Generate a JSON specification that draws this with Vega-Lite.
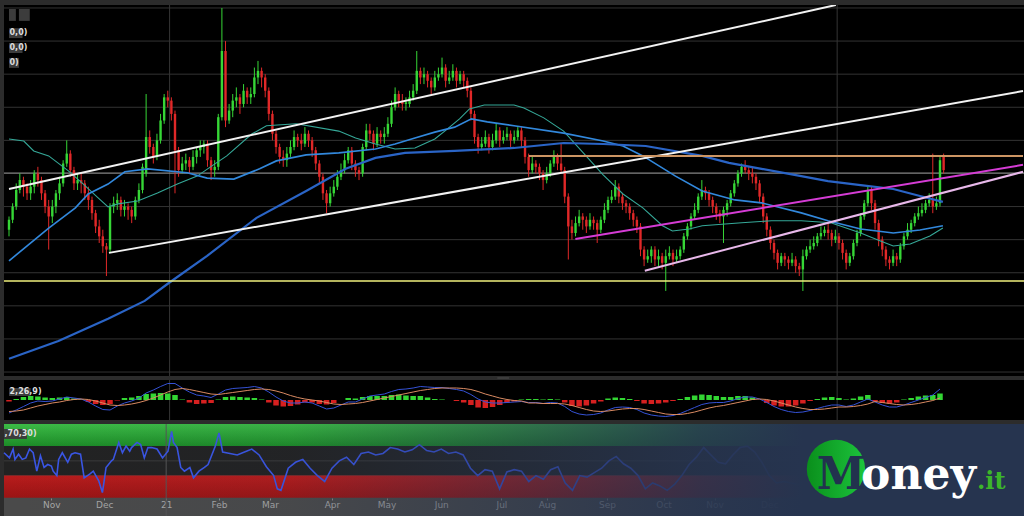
{
"$schema":"https://vega.github.io/schema/vega-lite/v6.json",
"background":"#2c2c2c",
"padding":{"top":4,"left":0,"right":0,"bottom":0},
"spacing":4,
"bounds":"flush",
"config":{"view":{"stroke":null},"axis":{"domain":false}},
"datasets":{
"candles":[
{"d":0,"o":53,"h":57,"l":51,"c":56},{"d":2,"o":56,"h":61,"l":55,"c":60},{"d":4,"o":60,"h":67,"l":59,"c":65},{"d":6,"o":65,"h":70,"l":64,"c":68},{"d":8,"o":68,"h":69,"l":63,"c":66},{"d":10,"o":66,"h":67,"l":62,"c":64},{"d":12,"o":64,"h":68,"l":62,"c":66},{"d":14,"o":66,"h":71,"l":64,"c":70},{"d":16,"o":70,"h":72,"l":66,"c":68},{"d":18,"o":68,"h":69,"l":62,"c":64},
{"d":20,"o":64,"h":65,"l":58,"c":60},{"d":22,"o":60,"h":62,"l":47,"c":57},{"d":24,"o":57,"h":62,"l":55,"c":60},{"d":26,"o":60,"h":65,"l":58,"c":64},{"d":28,"o":64,"h":69,"l":62,"c":67},{"d":30,"o":67,"h":74,"l":66,"c":73},{"d":32,"o":73,"h":80,"l":72,"c":76},{"d":34,"o":76,"h":77,"l":69,"c":71},{"d":36,"o":71,"h":72,"l":65,"c":67},{"d":38,"o":67,"h":70,"l":65,"c":68},
{"d":40,"o":68,"h":70,"l":64,"c":67},{"d":42,"o":67,"h":68,"l":62,"c":64},{"d":44,"o":64,"h":66,"l":59,"c":62},{"d":46,"o":62,"h":63,"l":56,"c":58},{"d":48,"o":58,"h":59,"l":52,"c":54},{"d":50,"o":54,"h":56,"l":49,"c":51},{"d":52,"o":51,"h":53,"l":46,"c":48},{"d":54,"o":48,"h":49,"l":39,"c":47},{"d":56,"o":47,"h":61,"l":46,"c":60},{"d":58,"o":60,"h":63,"l":58,"c":61},
{"d":60,"o":61,"h":64,"l":59,"c":62},{"d":62,"o":62,"h":63,"l":57,"c":59},{"d":64,"o":59,"h":62,"l":57,"c":60},{"d":66,"o":60,"h":61,"l":56,"c":59},{"d":68,"o":59,"h":60,"l":55,"c":57},{"d":70,"o":57,"h":63,"l":56,"c":62},{"d":72,"o":62,"h":67,"l":61,"c":65},{"d":74,"o":65,"h":73,"l":64,"c":72},{"d":76,"o":70,"h":94,"l":69,"c":81},{"d":78,"o":81,"h":83,"l":76,"c":78},
{"d":80,"o":78,"h":79,"l":73,"c":75},{"d":82,"o":75,"h":82,"l":74,"c":80},{"d":84,"o":80,"h":88,"l":79,"c":86},{"d":86,"o":86,"h":94,"l":85,"c":93},{"d":88,"o":93,"h":95,"l":90,"c":92},{"d":90,"o":92,"h":93,"l":86,"c":88},{"d":92,"o":88,"h":89,"l":64,"c":77},{"d":94,"o":77,"h":78,"l":69,"c":71},{"d":96,"o":71,"h":75,"l":70,"c":73},{"d":98,"o":73,"h":76,"l":71,"c":74},
{"d":100,"o":74,"h":75,"l":70,"c":72},{"d":102,"o":72,"h":77,"l":71,"c":75},{"d":104,"o":75,"h":78,"l":73,"c":77},{"d":106,"o":77,"h":80,"l":75,"c":78},{"d":108,"o":78,"h":80,"l":76,"c":79},{"d":110,"o":79,"h":80,"l":72,"c":74},{"d":112,"o":74,"h":75,"l":68,"c":71},{"d":114,"o":71,"h":74,"l":69,"c":72},{"d":116,"o":72,"h":88,"l":71,"c":87},{"d":118,"o":87,"h":120,"l":86,"c":107},
{"d":120,"o":107,"h":110,"l":84,"c":86},{"d":122,"o":86,"h":91,"l":85,"c":89},{"d":124,"o":89,"h":94,"l":87,"c":92},{"d":126,"o":92,"h":96,"l":90,"c":93},{"d":128,"o":93,"h":94,"l":88,"c":91},{"d":130,"o":91,"h":97,"l":90,"c":95},{"d":132,"o":95,"h":96,"l":91,"c":93},{"d":134,"o":93,"h":96,"l":91,"c":94},{"d":136,"o":94,"h":102,"l":93,"c":99},{"d":138,"o":99,"h":104,"l":97,"c":101},
{"d":140,"o":101,"h":102,"l":96,"c":99},{"d":142,"o":99,"h":100,"l":93,"c":95},{"d":144,"o":95,"h":96,"l":86,"c":88},{"d":146,"o":88,"h":89,"l":80,"c":82},{"d":148,"o":82,"h":83,"l":76,"c":78},{"d":150,"o":78,"h":79,"l":73,"c":75},{"d":152,"o":75,"h":77,"l":72,"c":74},{"d":154,"o":74,"h":78,"l":72,"c":76},{"d":156,"o":76,"h":80,"l":75,"c":78},{"d":158,"o":78,"h":83,"l":77,"c":81},
{"d":160,"o":81,"h":82,"l":78,"c":80},{"d":162,"o":80,"h":82,"l":77,"c":79},{"d":164,"o":79,"h":84,"l":78,"c":82},{"d":166,"o":82,"h":83,"l":78,"c":80},{"d":168,"o":80,"h":81,"l":75,"c":77},{"d":170,"o":77,"h":78,"l":71,"c":73},{"d":172,"o":73,"h":74,"l":67,"c":69},{"d":174,"o":69,"h":70,"l":62,"c":64},{"d":176,"o":64,"h":65,"l":58,"c":61},{"d":178,"o":61,"h":66,"l":60,"c":64},
{"d":180,"o":64,"h":68,"l":63,"c":66},{"d":182,"o":66,"h":71,"l":65,"c":69},{"d":184,"o":69,"h":73,"l":68,"c":71},{"d":186,"o":71,"h":76,"l":70,"c":74},{"d":188,"o":74,"h":78,"l":73,"c":77},{"d":190,"o":77,"h":78,"l":71,"c":73},{"d":192,"o":73,"h":74,"l":69,"c":71},{"d":194,"o":71,"h":72,"l":68,"c":70},{"d":196,"o":70,"h":79,"l":69,"c":78},{"d":198,"o":78,"h":85,"l":77,"c":83},
{"d":200,"o":83,"h":85,"l":80,"c":82},{"d":202,"o":82,"h":83,"l":77,"c":79},{"d":204,"o":79,"h":84,"l":78,"c":82},{"d":206,"o":82,"h":83,"l":79,"c":81},{"d":208,"o":81,"h":84,"l":79,"c":82},{"d":210,"o":82,"h":87,"l":81,"c":85},{"d":212,"o":85,"h":92,"l":84,"c":90},{"d":214,"o":90,"h":96,"l":89,"c":94},{"d":216,"o":94,"h":95,"l":90,"c":92},{"d":218,"o":92,"h":94,"l":89,"c":91},
{"d":220,"o":91,"h":93,"l":89,"c":91.5},{"d":222,"o":91,"h":95,"l":90,"c":93},{"d":224,"o":93,"h":97,"l":92,"c":95},{"d":226,"o":95,"h":107,"l":94,"c":101},{"d":228,"o":101,"h":102,"l":97,"c":99},{"d":230,"o":99,"h":102,"l":97,"c":100},{"d":232,"o":100,"h":101,"l":96,"c":98},{"d":234,"o":98,"h":99,"l":94,"c":96},{"d":236,"o":96,"h":101,"l":95,"c":99},{"d":238,"o":99,"h":102,"l":98,"c":100},
{"d":240,"o":100,"h":105,"l":99,"c":102},{"d":242,"o":102,"h":103,"l":96,"c":98},{"d":244,"o":98,"h":101,"l":97,"c":99},{"d":246,"o":99,"h":103,"l":98,"c":101},{"d":248,"o":101,"h":102,"l":96,"c":98},{"d":250,"o":98,"h":101,"l":97,"c":100},{"d":252,"o":100,"h":101,"l":96,"c":98},{"d":254,"o":98,"h":99,"l":93,"c":95},{"d":256,"o":95,"h":96,"l":86,"c":88},{"d":258,"o":88,"h":89,"l":79,"c":81},
{"d":260,"o":81,"h":82,"l":76,"c":78},{"d":262,"o":78,"h":81,"l":77,"c":79},{"d":264,"o":79,"h":83,"l":78,"c":81},{"d":266,"o":81,"h":82,"l":76,"c":78},{"d":268,"o":78,"h":82,"l":77,"c":80},{"d":270,"o":80,"h":85,"l":79,"c":83},{"d":272,"o":83,"h":84,"l":78,"c":80},{"d":274,"o":80,"h":83,"l":79,"c":81},{"d":276,"o":81,"h":84,"l":80,"c":82},{"d":278,"o":82,"h":83,"l":78,"c":80},
{"d":280,"o":80,"h":83,"l":79,"c":81},{"d":282,"o":81,"h":84,"l":80,"c":83},{"d":284,"o":83,"h":84,"l":78,"c":80},{"d":286,"o":80,"h":81,"l":73,"c":75},{"d":288,"o":75,"h":76,"l":69,"c":71},{"d":290,"o":71,"h":75,"l":70,"c":73},{"d":292,"o":73,"h":74,"l":70,"c":72},{"d":294,"o":72,"h":73,"l":68,"c":70},{"d":296,"o":70,"h":71,"l":65,"c":68},{"d":298,"o":68,"h":72,"l":67,"c":70},
{"d":300,"o":70,"h":74,"l":69,"c":73},{"d":302,"o":73,"h":77,"l":72,"c":75},{"d":304,"o":75,"h":76,"l":71,"c":73},{"d":306,"o":73,"h":79,"l":70,"c":71},{"d":308,"o":71,"h":72,"l":61,"c":63},{"d":310,"o":63,"h":64,"l":44,"c":54},{"d":312,"o":54,"h":56,"l":50,"c":52},{"d":314,"o":52,"h":57,"l":51,"c":55},{"d":316,"o":55,"h":59,"l":54,"c":57},{"d":318,"o":57,"h":58,"l":53,"c":56},
{"d":320,"o":56,"h":57,"l":52,"c":54},{"d":322,"o":54,"h":58,"l":53,"c":56},{"d":324,"o":56,"h":57,"l":53,"c":55},{"d":326,"o":55,"h":56,"l":49,"c":53},{"d":328,"o":53,"h":57,"l":52,"c":56},{"d":330,"o":56,"h":61,"l":55,"c":59},{"d":332,"o":59,"h":63,"l":58,"c":62},{"d":334,"o":62,"h":65,"l":61,"c":63},{"d":336,"o":63,"h":68,"l":62,"c":66},{"d":338,"o":66,"h":67,"l":61,"c":63},
{"d":340,"o":63,"h":64,"l":59,"c":61},{"d":342,"o":61,"h":62,"l":58,"c":60},{"d":344,"o":60,"h":61,"l":56,"c":58},{"d":346,"o":58,"h":59,"l":54,"c":56},{"d":348,"o":56,"h":57,"l":52,"c":54},{"d":350,"o":54,"h":55,"l":45,"c":47},{"d":352,"o":47,"h":48,"l":42,"c":44},{"d":354,"o":44,"h":47,"l":43,"c":45},{"d":356,"o":45,"h":48,"l":43,"c":47},{"d":358,"o":47,"h":48,"l":42,"c":44},
{"d":360,"o":44,"h":47,"l":42,"c":45},{"d":362,"o":45,"h":46,"l":41,"c":43},{"d":364,"o":43,"h":47,"l":34.5,"c":45},{"d":366,"o":45,"h":48,"l":44,"c":46},{"d":368,"o":46,"h":47,"l":42,"c":44},{"d":370,"o":44,"h":47,"l":43,"c":45},{"d":372,"o":45,"h":48,"l":44,"c":47},{"d":374,"o":47,"h":52,"l":46,"c":51},{"d":376,"o":51,"h":55,"l":50,"c":54},{"d":378,"o":54,"h":58,"l":53,"c":57},
{"d":380,"o":57,"h":61,"l":56,"c":59},{"d":382,"o":59,"h":64,"l":58,"c":63},{"d":384,"o":63,"h":68,"l":62,"c":65},{"d":386,"o":65,"h":66,"l":62,"c":64},{"d":388,"o":64,"h":65,"l":60,"c":62},{"d":390,"o":62,"h":63,"l":58,"c":60},{"d":392,"o":60,"h":61,"l":56,"c":58},{"d":394,"o":58,"h":59,"l":55,"c":57},{"d":396,"o":57,"h":60,"l":49,"c":59},{"d":398,"o":59,"h":62,"l":57,"c":61},
{"d":400,"o":61,"h":65,"l":60,"c":64},{"d":402,"o":64,"h":68,"l":63,"c":67},{"d":404,"o":67,"h":71,"l":66,"c":70},{"d":406,"o":70,"h":73,"l":69,"c":72},{"d":408,"o":72,"h":74,"l":70,"c":71},{"d":410,"o":71,"h":72,"l":68,"c":70},{"d":412,"o":70,"h":72,"l":67,"c":69},{"d":414,"o":69,"h":70,"l":65,"c":67},{"d":416,"o":67,"h":68,"l":61,"c":63},{"d":418,"o":63,"h":64,"l":55,"c":57},
{"d":420,"o":57,"h":58,"l":51,"c":53},{"d":422,"o":53,"h":54,"l":47,"c":49},{"d":424,"o":49,"h":50,"l":44,"c":46},{"d":426,"o":46,"h":47,"l":41,"c":43},{"d":428,"o":43,"h":46,"l":42,"c":45},{"d":430,"o":45,"h":46,"l":42,"c":44},{"d":432,"o":44,"h":45,"l":41,"c":43},{"d":434,"o":43,"h":46,"l":42,"c":44},{"d":436,"o":44,"h":45,"l":40,"c":42},{"d":438,"o":42,"h":43,"l":39,"c":41},
{"d":440,"o":41,"h":47,"l":34.5,"c":45},{"d":442,"o":45,"h":48,"l":44,"c":47},{"d":444,"o":47,"h":50,"l":46,"c":48},{"d":446,"o":48,"h":51,"l":47,"c":49},{"d":448,"o":49,"h":52,"l":48,"c":51},{"d":450,"o":51,"h":54,"l":50,"c":52},{"d":452,"o":52,"h":54,"l":51,"c":53},{"d":454,"o":53,"h":55,"l":50,"c":52},{"d":456,"o":52,"h":53,"l":48,"c":50},{"d":458,"o":50,"h":53,"l":49,"c":51},
{"d":460,"o":51,"h":52,"l":47,"c":49},{"d":462,"o":49,"h":50,"l":44,"c":46},{"d":464,"o":46,"h":47,"l":41,"c":43},{"d":466,"o":43,"h":46,"l":42,"c":45},{"d":468,"o":45,"h":50,"l":44,"c":49},{"d":470,"o":49,"h":53,"l":48,"c":52},{"d":472,"o":52,"h":58,"l":51,"c":57},{"d":474,"o":57,"h":62,"l":56,"c":61},{"d":476,"o":61,"h":66.5,"l":60,"c":65},{"d":478,"o":65,"h":66,"l":59,"c":61},
{"d":480,"o":61,"h":62,"l":53,"c":55},{"d":482,"o":55,"h":56,"l":48,"c":50},{"d":484,"o":50,"h":51,"l":45,"c":47},{"d":486,"o":47,"h":48,"l":42,"c":44},{"d":488,"o":44,"h":45,"l":41,"c":43},{"d":490,"o":43,"h":47,"l":42,"c":45},{"d":492,"o":45,"h":46,"l":42,"c":44},{"d":494,"o":44,"h":49,"l":43,"c":48},{"d":496,"o":48,"h":52,"l":47,"c":51},{"d":498,"o":51,"h":55,"l":50,"c":53},
{"d":500,"o":53,"h":56,"l":52,"c":55},{"d":502,"o":55,"h":58,"l":54,"c":57},{"d":504,"o":57,"h":60,"l":56,"c":58},{"d":506,"o":58,"h":61,"l":57,"c":59},{"d":508,"o":59,"h":62,"l":58,"c":61},{"d":510,"o":61,"h":64,"l":60,"c":62},{"d":512,"o":62,"h":76,"l":58,"c":60},{"d":514,"o":60,"h":63,"l":59,"c":61},{"d":516,"o":61,"h":75,"l":60,"c":74},{"d":518,"o":75,"h":76,"l":70,"c":71}
],
"ma":[
{"m":"T","d":0,"v":80.4},{"m":"T","d":8.2,"v":79.8},{"m":"T","d":13.7,"v":76.8},{"m":"T","d":22,"v":75.3},{"m":"T","d":32.9,"v":70.8},{"m":"T","d":41.2,"v":66.8},{"m":"T","d":49.4,"v":62.6},{"m":"T","d":54.9,"v":59.9},{"m":"T","d":60.4,"v":60.8},{"m":"T","d":71.3,"v":61.7},{"m":"T","d":82.3,"v":64.1},{"m":"T","d":93.3,"v":66.8},{"m":"T","d":104.3,"v":69.2},{"m":"T","d":112.5,"v":72.3},{"m":"T","d":120.7,"v":75.3},{"m":"T","d":134.5,"v":81.9},{"m":"T","d":142.7,"v":84.4},{"m":"T","d":159.2,"v":85},{"m":"T","d":182.8,"v":82.8},{"m":"T","d":192.1,"v":80.7},{"m":"T","d":203.1,"v":78.9},{"m":"T","d":214,"v":77.4},{"m":"T","d":225,"v":77.7},{"m":"T","d":236,"v":80.4},{"m":"T","d":241.5,"v":82.8},{"m":"T","d":249.7,"v":86.5},{"m":"T","d":255.2,"v":89.5},{"m":"T","d":263.4,"v":90.7},{"m":"T","d":279.9,"v":90.7},{"m":"T","d":285.4,"v":89.8},{"m":"T","d":296.4,"v":86.8},{"m":"T","d":307.4,"v":82.8},{"m":"T","d":318.3,"v":76.2},{"m":"T","d":329.3,"v":69.6},{"m":"T","d":340.3,"v":63.8},{"m":"T","d":351.3,"v":59.6},{"m":"T","d":362.2,"v":54.2},{"m":"T","d":367.7,"v":52.6},{"m":"T","d":377,"v":53.2},{"m":"T","d":384.2,"v":54.2},{"m":"T","d":406.1,"v":55.1},{"m":"T","d":422.6,"v":55.7},{"m":"T","d":439.1,"v":55.7},{"m":"T","d":455.5,"v":55.1},{"m":"T","d":472,"v":52},{"m":"T","d":483,"v":49.6},{"m":"T","d":490.1,"v":48.1},{"m":"T","d":499.5,"v":48.7},{"m":"T","d":510.4,"v":51.1},{"m":"T","d":517.6,"v":53.5},
{"m":"A","d":0,"v":43.6},{"m":"A","d":22,"v":53.5},{"m":"A","d":36.8,"v":59.6},{"m":"A","d":43.9,"v":63.8},{"m":"A","d":54.9,"v":66.8},{"m":"A","d":64.2,"v":70.5},{"m":"A","d":76.8,"v":71.4},{"m":"A","d":98.8,"v":70.2},{"m":"A","d":109.8,"v":68.6},{"m":"A","d":124.6,"v":68.3},{"m":"A","d":138.9,"v":71.4},{"m":"A","d":148.2,"v":73.8},{"m":"A","d":164.7,"v":75.6},{"m":"A","d":182.8,"v":76.2},{"m":"A","d":203.1,"v":77.4},{"m":"A","d":214,"v":78.9},{"m":"A","d":225,"v":80.7},{"m":"A","d":236,"v":82.5},{"m":"A","d":247,"v":84},{"m":"A","d":256.3,"v":86.5},{"m":"A","d":265.1,"v":85.6},{"m":"A","d":279.9,"v":84.4},{"m":"A","d":307.4,"v":82.2},{"m":"A","d":329.3,"v":79.8},{"m":"A","d":340.3,"v":78.3},{"m":"A","d":351.3,"v":75.3},{"m":"A","d":369.4,"v":69.2},{"m":"A","d":384.2,"v":64.7},{"m":"A","d":402.3,"v":62},{"m":"A","d":417.1,"v":61.1},{"m":"A","d":439.1,"v":58.1},{"m":"A","d":453.9,"v":55.7},{"m":"A","d":472,"v":53.2},{"m":"A","d":490.1,"v":52},{"m":"A","d":504.9,"v":52.9},{"m":"A","d":517.6,"v":54.2},
{"m":"B","d":0,"v":14},{"m":"B","d":27.4,"v":19.4},{"m":"B","d":54.9,"v":26.1},{"m":"B","d":75.2,"v":31.5},{"m":"B","d":87.8,"v":36.6},{"m":"B","d":109.8,"v":45.1},{"m":"B","d":137.2,"v":56.6},{"m":"B","d":164.7,"v":64.7},{"m":"B","d":186.6,"v":71.4},{"m":"B","d":203.1,"v":74.7},{"m":"B","d":219.5,"v":76.2},{"m":"B","d":247,"v":76.8},{"m":"B","d":279.9,"v":77.7},{"m":"B","d":307.4,"v":79.2},{"m":"B","d":329.3,"v":78.9},{"m":"B","d":352.9,"v":78.3},{"m":"B","d":384.2,"v":75.3},{"m":"B","d":399,"v":73.2},{"m":"B","d":417.1,"v":71.4},{"m":"B","d":439.1,"v":69.2},{"m":"B","d":453.9,"v":67.7},{"m":"B","d":472,"v":66.5},{"m":"B","d":490.1,"v":65.3},{"m":"B","d":504.9,"v":63.2},{"m":"B","d":517.6,"v":61.4}
],
"trend":[
{"k":"w1","d":0,"v":65.3},{"k":"w1","d":458.3,"v":120.9},
{"k":"w2","d":55.4,"v":46},{"k":"w2","d":562,"v":94.9},
{"k":"mg","d":313.9,"v":50.2},{"k":"mg","d":562,"v":72.6},
{"k":"pk","d":352.4,"v":40.6},{"k":"pk","d":562,"v":70.5}
],
"rsi":[
{"d":0,"r":61},{"d":3,"r":54},{"d":5,"r":66},{"d":6,"r":52},{"d":8,"r":59},{"d":10,"r":52},{"d":12,"r":54},{"d":14,"r":66},{"d":16,"r":61},{"d":18,"r":36},{"d":20,"r":57},{"d":22,"r":41},{"d":24,"r":45},{"d":26,"r":43},{"d":27,"r":36},{"d":29,"r":30},{"d":30,"r":52},{"d":32,"r":61},{"d":35,"r":48},{"d":37,"r":59},{"d":39,"r":61},{"d":42,"r":59},{"d":44,"r":27},{"d":47,"r":32},{"d":49,"r":36},{"d":52,"r":23},{"d":54,"r":7},{"d":55,"r":23},{"d":56,"r":41},{"d":59,"r":50},{"d":60,"r":52},{"d":63,"r":75},{"d":65,"r":61},{"d":67,"r":70},{"d":69,"r":63},{"d":70,"r":68},{"d":73,"r":75},{"d":75,"r":72},{"d":77,"r":54},{"d":79,"r":68},{"d":81,"r":68},{"d":84,"r":66},{"d":87,"r":54},{"d":90,"r":63},{"d":92,"r":90},{"d":93,"r":75},{"d":95,"r":68},{"d":97,"r":41},{"d":99,"r":36},{"d":102,"r":41},{"d":104,"r":27},{"d":107,"r":36},{"d":110,"r":41},
{"d":112,"r":45},{"d":116,"r":70},{"d":118,"r":88},{"d":120,"r":62},{"d":124,"r":60},{"d":128,"r":58},{"d":132,"r":62},{"d":136,"r":66},{"d":140,"r":58},{"d":144,"r":42},{"d":148,"r":30},{"d":150,"r":12},{"d":152,"r":10},{"d":156,"r":40},{"d":160,"r":48},{"d":164,"r":52},{"d":168,"r":40},{"d":172,"r":30},{"d":176,"r":22},{"d":180,"r":40},{"d":184,"r":50},{"d":188,"r":55},{"d":192,"r":45},{"d":196,"r":60},{"d":200,"r":62},{"d":204,"r":58},{"d":208,"r":60},{"d":212,"r":68},{"d":216,"r":66},{"d":220,"r":62},{"d":224,"r":65},{"d":228,"r":72},{"d":232,"r":64},{"d":236,"r":62},{"d":240,"r":66},{"d":244,"r":60},{"d":248,"r":62},{"d":252,"r":58},{"d":256,"r":40},{"d":260,"r":30},{"d":264,"r":38},{"d":268,"r":36},{"d":272,"r":12},{"d":276,"r":35},{"d":280,"r":38},{"d":284,"r":36},{"d":288,"r":22},{"d":292,"r":30},{"d":296,"r":25},{"d":300,"r":38},{"d":304,"r":42},{"d":308,"r":20},{"d":312,"r":10},{"d":316,"r":30},{"d":320,"r":28},{"d":324,"r":34},{"d":328,"r":40},{"d":332,"r":50},{"d":336,"r":56},{"d":340,"r":46},{"d":344,"r":40},{"d":348,"r":30},{"d":352,"r":12},{"d":356,"r":20},{"d":360,"r":16},{"d":364,"r":10},{"d":368,"r":18},{"d":372,"r":30},{"d":376,"r":45},{"d":380,"r":55},{"d":384,"r":68},{"d":388,"r":58},{"d":392,"r":48},{"d":396,"r":46},{"d":400,"r":58},{"d":404,"r":68},{"d":408,"r":70},{"d":412,"r":62},{"d":416,"r":48},{"d":420,"r":30},{"d":424,"r":20},{"d":428,"r":22},{"d":432,"r":20},{"d":436,"r":18},{"d":440,"r":24},{"d":444,"r":32},{"d":448,"r":40},{"d":452,"r":44},{"d":456,"r":40},{"d":460,"r":36},{"d":464,"r":22},{"d":468,"r":38},{"d":472,"r":52},{"d":476,"r":64},{"d":480,"r":44},{"d":484,"r":28},{"d":488,"r":22},{"d":492,"r":26},{"d":496,"r":40},{"d":500,"r":48},{"d":504,"r":54},{"d":508,"r":58},{"d":512,"r":55},{"d":516,"r":72},{"d":518,"r":65}
],
"macd":[
{"d":0,"m":-2.6,"s":-2.3,"g":-0.3},{"d":4,"m":-2,"s":-2.2,"g":0.2},{"d":8,"m":-1.3,"s":-2,"g":0.6},{"d":12,"m":-0.6,"s":-1.6,"g":0.8},{"d":16,"m":-0.2,"s":-1.2,"g":0.7},{"d":20,"m":-0.3,"s":-0.9,"g":0.5},{"d":24,"m":-0.2,"s":-0.6,"g":0.4},{"d":28,"m":0.2,"s":-0.4,"g":0.5},{"d":32,"m":0.6,"s":-0.1,"g":0.6},{"d":36,"m":0.4,"s":0.1,"g":0.3},
{"d":40,"m":0.2,"s":0.2,"g":0.1},{"d":44,"m":-0.4,"s":0.1,"g":-0.4},{"d":48,"m":-1.2,"s":-0.2,"g":-0.8},{"d":52,"m":-1.9,"s":-0.6,"g":-1},{"d":56,"m":-2,"s":-1,"g":-0.8},{"d":60,"m":-1.2,"s":-1.1,"g":-0.1},{"d":64,"m":-0.6,"s":-1,"g":0.4},{"d":68,"m":-0.2,"s":-0.8,"g":0.5},{"d":72,"m":0.4,"s":-0.5,"g":0.8},{"d":76,"m":1.4,"s":-0.1,"g":1.2},
{"d":80,"m":2,"s":0.4,"g":1.3},{"d":84,"m":2.7,"s":1,"g":1.4},{"d":88,"m":3.3,"s":1.6,"g":1.3},{"d":92,"m":3.3,"s":2.1,"g":1},{"d":96,"m":2.4,"s":2.3,"g":0.1},{"d":100,"m":1.6,"s":2.1,"g":-0.5},{"d":104,"m":1,"s":1.8,"g":-0.8},{"d":108,"m":0.8,"s":1.5,"g":-0.7},{"d":112,"m":0.5,"s":1.2,"g":-0.6},{"d":116,"m":1.2,"s":1.1,"g":0.1},
{"d":120,"m":2,"s":1.3,"g":0.6},{"d":124,"m":2.3,"s":1.5,"g":0.7},{"d":128,"m":2.4,"s":1.7,"g":0.6},{"d":132,"m":2.5,"s":1.9,"g":0.5},{"d":136,"m":2.7,"s":2.1,"g":0.4},{"d":140,"m":2.4,"s":2.2,"g":0.1},{"d":144,"m":1.6,"s":2.1,"g":-0.5},{"d":148,"m":0.6,"s":1.8,"g":-1.1},{"d":152,"m":-0.2,"s":1.4,"g":-1.3},{"d":156,"m":-0.6,"s":0.9,"g":-1.2},
{"d":160,"m":-0.6,"s":0.5,"g":-0.9},{"d":164,"m":-0.4,"s":0.2,"g":-0.5},{"d":168,"m":-0.6,"s":0,"g":-0.5},{"d":172,"m":-1.2,"s":-0.2,"g":-0.8},{"d":176,"m":-1.8,"s":-0.5,"g":-0.9},{"d":180,"m":-1.6,"s":-0.8,"g":-0.6},{"d":184,"m":-1,"s":-0.9,"g":0},{"d":188,"m":-0.4,"s":-0.8,"g":0.4},{"d":192,"m":-0.4,"s":-0.7,"g":0.3},{"d":196,"m":0.2,"s":-0.5,"g":0.6},
{"d":200,"m":0.8,"s":-0.2,"g":0.8},{"d":204,"m":1,"s":0.1,"g":0.8},{"d":208,"m":1.2,"s":0.4,"g":0.8},{"d":212,"m":1.7,"s":0.7,"g":1},{"d":216,"m":2.1,"s":1,"g":1.1},{"d":220,"m":2.2,"s":1.3,"g":0.9},{"d":224,"m":2.4,"s":1.6,"g":0.8},{"d":228,"m":2.7,"s":1.9,"g":0.8},{"d":232,"m":2.6,"s":2.1,"g":0.5},{"d":236,"m":2.5,"s":2.3,"g":0.2},
{"d":240,"m":2.5,"s":2.4,"g":0.1},{"d":244,"m":2.3,"s":2.4,"g":0},{"d":248,"m":2.1,"s":2.4,"g":-0.2},{"d":252,"m":1.8,"s":2.3,"g":-0.5},{"d":256,"m":1.1,"s":2.1,"g":-1},{"d":260,"m":0.2,"s":1.7,"g":-1.5},{"d":264,"m":-0.4,"s":1.2,"g":-1.6},{"d":268,"m":-0.6,"s":0.8,"g":-1.4},{"d":272,"m":-0.6,"s":0.4,"g":-1},{"d":276,"m":-0.5,"s":0.1,"g":-0.6},
{"d":280,"m":-0.4,"s":-0.1,"g":-0.3},{"d":284,"m":-0.3,"s":-0.2,"g":0.1},{"d":288,"m":-0.5,"s":-0.6,"g":0.2},{"d":292,"m":-0.5,"s":-0.6,"g":0.2},{"d":296,"m":-0.7,"s":-0.7,"g":0.1},{"d":300,"m":-0.5,"s":-0.7,"g":0.2},{"d":304,"m":-0.6,"s":-0.7,"g":0.1},{"d":308,"m":-1.3,"s":-0.8,"g":-0.5},{"d":312,"m":-2.3,"s":-1.1,"g":-1.2},{"d":316,"m":-2.8,"s":-1.5,"g":-1.3},
{"d":320,"m":-3,"s":-1.9,"g":-1.1},{"d":324,"m":-2.9,"s":-2.2,"g":-0.7},{"d":328,"m":-2.6,"s":-2.3,"g":-0.3},{"d":332,"m":-2,"s":-2.2,"g":0.3},{"d":336,"m":-1.5,"s":-2,"g":0.5},{"d":340,"m":-1.4,"s":-1.8,"g":0.4},{"d":344,"m":-1.5,"s":-1.7,"g":0.2},{"d":348,"m":-1.9,"s":-1.7,"g":-0.2},{"d":352,"m":-2.6,"s":-1.9,"g":-0.7},{"d":356,"m":-3,"s":-2.2,"g":-0.8},
{"d":360,"m":-3.2,"s":-2.5,"g":-0.7},{"d":364,"m":-3.3,"s":-2.8,"g":-0.5},{"d":368,"m":-3.1,"s":-2.9,"g":-0.2},{"d":372,"m":-2.7,"s":-2.9,"g":0.2},{"d":376,"m":-2.1,"s":-2.7,"g":0.6},{"d":380,"m":-1.5,"s":-2.4,"g":0.9},{"d":384,"m":-0.9,"s":-2,"g":1.1},{"d":388,"m":-0.6,"s":-1.6,"g":1},{"d":392,"m":-0.5,"s":-1.3,"g":0.8},{"d":396,"m":-0.5,"s":-1.1,"g":0.6},
{"d":400,"m":-0.2,"s":-0.8,"g":0.6},{"d":404,"m":0.3,"s":-0.5,"g":0.8},{"d":408,"m":0.6,"s":-0.2,"g":0.8},{"d":412,"m":0.6,"s":0.1,"g":0.5},{"d":416,"m":0.2,"s":0.2,"g":0},{"d":420,"m":-0.5,"s":0.1,"g":-0.6},{"d":424,"m":-1.3,"s":-0.2,"g":-1.1},{"d":428,"m":-1.9,"s":-0.6,"g":-1.3},{"d":432,"m":-2.3,"s":-1,"g":-1.3},{"d":436,"m":-2.5,"s":-1.4,"g":-1.1},
{"d":440,"m":-2.4,"s":-1.7,"g":-0.7},{"d":444,"m":-2.1,"s":-1.9,"g":-0.2},{"d":448,"m":-1.7,"s":-1.9,"g":0.2},{"d":452,"m":-1.3,"s":-1.8,"g":0.5},{"d":456,"m":-1,"s":-1.6,"g":0.6},{"d":460,"m":-1,"s":-1.4,"g":0.4},{"d":464,"m":-1.3,"s":-1.4,"g":0.1},{"d":468,"m":-1,"s":-1.3,"g":0.3},{"d":472,"m":-0.4,"s":-1.1,"g":0.7},{"d":476,"m":0.2,"s":-0.8,"g":1},
{"d":480,"m":-0.4,"s":-0.3,"g":-0.3},{"d":484,"m":-1,"s":-0.5,"g":-0.6},{"d":488,"m":-1.4,"s":-0.7,"g":-0.7},{"d":492,"m":-1.4,"s":-0.9,"g":-0.5},{"d":496,"m":-1,"s":-1,"g":0.1},{"d":500,"m":-0.5,"s":-0.9,"g":0.4},{"d":504,"m":0,"s":-0.7,"g":0.7},{"d":508,"m":0.5,"s":-0.4,"g":0.9},{"d":512,"m":1,"s":-0.1,"g":1},{"d":516,"m":2.2,"s":0.4,"g":1.3}
]
},
"vconcat":[
{
"width":1024,"height":371,
"view":{"fill":"#000000","stroke":null},
"resolve":{"scale":{"color":"independent","strokeWidth":"independent"}},
"layer":[
{"data":{"values":[{"g":10},{"g":20},{"g":30},{"g":40},{"g":50},{"g":60},{"g":80},{"g":90},{"g":100},{"g":110},{"g":120}]},
 "mark":{"type":"rule","color":"#333333","strokeWidth":1},
 "encoding":{"y":{"field":"g","type":"quantitative","scale":{"domain":[8.8,120.9],"nice":false,"zero":false},"axis":null}}},
{"data":{"values":[{"d":89},{"d":459}]},
 "mark":{"type":"rule","color":"#353535","strokeWidth":1},
 "encoding":{"x":{"field":"d","type":"quantitative","scale":{"domain":[0,562],"nice":false,"zero":false},"axis":null}}},
{"data":{"values":[{"g":70.1}]},
 "mark":{"type":"rule","color":"#858585","strokeWidth":1.2},
 "encoding":{"y":{"field":"g","type":"quantitative","scale":{"domain":[8.8,120.9],"nice":false,"zero":false},"axis":null}}},
{"data":{"name":"candles"},
 "mark":{"type":"rule","strokeWidth":1},
 "encoding":{
  "x":{"field":"d","type":"quantitative","scale":{"domain":[0,562],"nice":false,"zero":false},"axis":null},
  "y":{"field":"l","type":"quantitative","scale":{"domain":[8.8,120.9],"nice":false,"zero":false},"axis":null},
  "y2":{"field":"h"},
  "color":{"condition":{"test":"datum.c >= datum.o","value":"#36d636"},"value":"#e02828"}}},
{"data":{"name":"candles"},
 "mark":{"type":"bar","width":2.4},
 "encoding":{
  "x":{"field":"d","type":"quantitative","scale":{"domain":[0,562],"nice":false,"zero":false},"axis":null},
  "y":{"field":"o","type":"quantitative","scale":{"domain":[8.8,120.9],"nice":false,"zero":false},"axis":null},
  "y2":{"field":"c"},
  "color":{"condition":{"test":"datum.c >= datum.o","value":"#36d636"},"value":"#e02828"}}},
{"data":{"name":"ma"},
 "mark":{"type":"line","clip":true},
 "encoding":{
  "x":{"field":"d","type":"quantitative","scale":{"domain":[0,562],"nice":false,"zero":false},"axis":null},
  "y":{"field":"v","type":"quantitative","scale":{"domain":[8.8,120.9],"nice":false,"zero":false},"axis":null},
  "color":{"field":"m","type":"nominal","scale":{"domain":["T","A","B"],"range":["#35a898","#3288dc","#2a64c6"]},"legend":null},
  "strokeWidth":{"field":"m","type":"nominal","scale":{"domain":["T","A","B"],"range":[1.1,2.2,2.2]},"legend":null}}},
{"data":{"name":"trend"},
 "mark":{"type":"line","clip":true},
 "encoding":{
  "x":{"field":"d","type":"quantitative","scale":{"domain":[0,562],"nice":false,"zero":false},"axis":null},
  "y":{"field":"v","type":"quantitative","scale":{"domain":[8.8,120.9],"nice":false,"zero":false},"axis":null},
  "color":{"field":"k","type":"nominal","scale":{"domain":["w1","w2","mg","pk"],"range":["#f2f2f2","#f2f2f2","#d53cd5","#e8b8ea"]},"legend":null},
  "strokeWidth":{"field":"k","type":"nominal","scale":{"domain":["w1","w2","mg","pk"],"range":[2,2,2,1.6]},"legend":null}}},
{"data":{"values":[{"d0":288.1,"d1":562,"v":75.3}]},
 "mark":{"type":"rule","color":"#cc9563","strokeWidth":2},
 "encoding":{
  "x":{"field":"d0","type":"quantitative","scale":{"domain":[0,562],"nice":false,"zero":false},"axis":null},
  "x2":{"field":"d1"},
  "y":{"field":"v","type":"quantitative","scale":{"domain":[8.8,120.9],"nice":false,"zero":false},"axis":null}}},
{"data":{"values":[{"v":37.5}]},
 "mark":{"type":"rule","color":"#f0f07c","strokeWidth":1.6},
 "encoding":{"y":{"field":"v","type":"quantitative","scale":{"domain":[8.8,120.9],"nice":false,"zero":false},"axis":null}}},
{"data":{"values":[{"d0":0,"d1":3.8,"v0":116.1,"v1":119.7},{"d0":5.5,"d1":11.5,"v0":116.1,"v1":119.7},{"d0":0,"d1":7.5,"v0":110.9,"v1":113.9},{"d0":0,"d1":7.5,"v0":106.4,"v1":109.4},{"d0":0,"d1":5.5,"v0":101.9,"v1":104.9},{"d0":270.6,"d1":277.2,"v0":7.9,"v1":8.5}]},
 "mark":{"type":"rect","color":"#3c3c3c","clip":false},
 "encoding":{
  "x":{"field":"d0","type":"quantitative","scale":{"domain":[0,562],"nice":false,"zero":false},"axis":null},
  "x2":{"field":"d1"},
  "y":{"field":"v0","type":"quantitative","scale":{"domain":[8.8,120.9],"nice":false,"zero":false},"axis":null},
  "y2":{"field":"v1"}}},
{"data":{"values":[{"d":0.3,"v":112.4,"t":"0,0)"},{"d":0.3,"v":107.9,"t":"0,0)"},{"d":0.3,"v":103.4,"t":"0)"}]},
 "mark":{"type":"text","align":"left","baseline":"middle","font":"DejaVu Sans","fontSize":8,"fontWeight":"bold","color":"#dddddd"},
 "encoding":{
  "x":{"field":"d","type":"quantitative","scale":{"domain":[0,562],"nice":false,"zero":false},"axis":null},
  "y":{"field":"v","type":"quantitative","scale":{"domain":[8.8,120.9],"nice":false,"zero":false},"axis":null},
  "text":{"field":"t"}}}
]
},
{
"width":1024,"height":40,
"view":{"fill":"#000000","stroke":null},
"layer":[
{"data":{"values":[{"d":89},{"d":459}]},
 "mark":{"type":"rule","color":"#353535"},
 "encoding":{"x":{"field":"d","type":"quantitative","scale":{"domain":[0,562],"nice":false,"zero":false},"axis":null}}},
{"data":{"name":"macd"},
 "mark":{"type":"bar","width":5.5},
 "encoding":{
  "x":{"field":"d","type":"quantitative","scale":{"domain":[0,562],"nice":false,"zero":false},"axis":null},
  "y":{"field":"g","type":"quantitative","scale":{"domain":[-4,4],"nice":false,"zero":false},"axis":null},
  "y2":{"datum":0},
  "color":{"condition":{"test":"datum.g >= 0","value":"#33d633"},"value":"#d62020"}}},
{"data":{"name":"macd"},
 "mark":{"type":"line","color":"#3552d6","strokeWidth":1},
 "encoding":{
  "x":{"field":"d","type":"quantitative","scale":{"domain":[0,562],"nice":false,"zero":false},"axis":null},
  "y":{"field":"m","type":"quantitative","scale":{"domain":[-4,4],"nice":false,"zero":false},"axis":null}}},
{"data":{"name":"macd"},
 "mark":{"type":"line","color":"#d98a62","strokeWidth":1},
 "encoding":{
  "x":{"field":"d","type":"quantitative","scale":{"domain":[0,562],"nice":false,"zero":false},"axis":null},
  "y":{"field":"s","type":"quantitative","scale":{"domain":[-4,4],"nice":false,"zero":false},"axis":null}}},
{"data":{"values":[{"d0":0,"d1":12,"v0":0.8,"v1":2.4}]},
 "mark":{"type":"rect","color":"#3c3c3c"},
 "encoding":{
  "x":{"field":"d0","type":"quantitative","scale":{"domain":[0,562],"nice":false,"zero":false},"axis":null},
  "x2":{"field":"d1"},
  "y":{"field":"v0","type":"quantitative","scale":{"domain":[-4,4],"nice":false,"zero":false},"axis":null},
  "y2":{"field":"v1"}}},
{"data":{"values":[{"d":0.3,"v":1.6,"t":"2,26,9)"}]},
 "mark":{"type":"text","align":"left","baseline":"middle","font":"DejaVu Sans","fontSize":8,"fontWeight":"bold","color":"#dddddd"},
 "encoding":{
  "x":{"field":"d","type":"quantitative","scale":{"domain":[0,562],"nice":false,"zero":false},"axis":null},
  "y":{"field":"v","type":"quantitative","scale":{"domain":[-4,4],"nice":false,"zero":false},"axis":null},
  "text":{"field":"t"}}}
]
},
{
"width":1024,"height":93,
"view":{"fill":"#4a4a4a","stroke":null},
"encoding":{"x":{"field":"d","type":"quantitative","scale":{"domain":[0,562],"nice":false,"zero":false},
  "axis":{"values":[26,55,89,118,146,180,210,240,273,298,331,362,390,420,459,489,519,549],
   "labelExpr":"['Nov','Dec','21','Feb','Mar','Apr','May','Jun','Jul','Aug','Sep','Oct','Nov','Dec','22','Feb','Mar','Apr'][indexof([26,55,89,118,146,180,210,240,273,298,331,362,390,420,459,489,519,549], datum.value)]",
   "offset":-19,"domain":false,"grid":false,"ticks":true,"tickSize":2,"tickColor":"#8a8a8a","labelColor":"#a6a6a6","labelFontSize":9,"labelFont":"DejaVu Sans","labelPadding":0,"title":null,"labelOverlap":false,"labelFlush":false,"minExtent":0,"zindex":0}}},
"layer":[
{"data":{"values":[{"d":0,"d1":562,"r0":30,"r1":70}]},
 "mark":{"type":"rect","color":"#222222"},
 "encoding":{"x2":{"field":"d1"},"y":{"field":"r0","type":"quantitative","scale":{"domain":[-26.2,100],"nice":false,"zero":false},"axis":null},"y2":{"field":"r1"}}},
{"data":{"values":[{"d":0,"d1":562,"r0":70,"r1":100}]},
 "mark":{"type":"rect","fill":{"gradient":"linear","x1":0,"y1":0,"x2":0,"y2":1,"stops":[{"offset":0,"color":"#3cbb46"},{"offset":1,"color":"#1c8c27"}]}},
 "encoding":{"x2":{"field":"d1"},"y":{"field":"r0","type":"quantitative","scale":{"domain":[-26.2,100],"nice":false,"zero":false},"axis":null},"y2":{"field":"r1"}}},
{"data":{"values":[{"d":0,"d1":562,"r0":0,"r1":30}]},
 "mark":{"type":"rect","fill":{"gradient":"linear","x1":0,"y1":0,"x2":0,"y2":1,"stops":[{"offset":0,"color":"#b81c1c"},{"offset":1,"color":"#9a1414"}]}},
 "encoding":{"x2":{"field":"d1"},"y":{"field":"r0","type":"quantitative","scale":{"domain":[-26.2,100],"nice":false,"zero":false},"axis":null},"y2":{"field":"r1"}}},
{"data":{"values":[{"d":0,"d1":562,"r":50}]},
 "mark":{"type":"rule","color":"#3a3a3a"},
 "encoding":{"x2":{"field":"d1"},"y":{"field":"r","type":"quantitative","scale":{"domain":[-26.2,100],"nice":false,"zero":false},"axis":null}}},
{"data":{"values":[{"d":89},{"d":459}]},
 "mark":{"type":"rule","color":"#555555"},
 "encoding":{}},
{"data":{"name":"rsi"},
 "mark":{"type":"line","color":"#3a56e6","strokeWidth":1.6},
 "encoding":{"y":{"field":"r","type":"quantitative","scale":{"domain":[-26.2,100],"nice":false,"zero":false},"axis":null}}},
{"data":{"values":[{"d":0,"d1":562,"r0":-26.2,"r1":100}]},
 "mark":{"type":"rect","fill":{"gradient":"linear","x1":0,"y1":0,"x2":1,"y2":0,"stops":[{"offset":0,"color":"rgba(38,52,79,0)"},{"offset":0.28,"color":"rgba(38,52,79,0.08)"},{"offset":0.5,"color":"rgba(38,52,79,0.5)"},{"offset":0.68,"color":"rgba(38,52,79,0.88)"},{"offset":0.78,"color":"rgba(38,52,79,1)"},{"offset":1,"color":"rgba(38,52,79,1)"}]}},
 "encoding":{"x2":{"field":"d1"},"y":{"field":"r0","type":"quantitative","scale":{"domain":[-26.2,100],"nice":false,"zero":false},"axis":null},"y2":{"field":"r1"}}},
{"data":{"values":[{"d":456.6,"r":39}]},
 "mark":{"type":"point","shape":"circle","filled":true,"size":3400,"opacity":1,"strokeWidth":0,"fill":{"gradient":"linear","x1":0,"y1":0,"x2":1,"y2":0,"stops":[{"offset":0,"color":"#0a8f1c"},{"offset":1,"color":"#1cc43c"}]}},
 "encoding":{"y":{"field":"r","type":"quantitative","scale":{"domain":[-26.2,100],"nice":false,"zero":false},"axis":null}}},
{"data":{"values":[{"d":459.4,"r":11.8,"t":"M"}]},
 "mark":{"type":"text","align":"center","baseline":"alphabetic","font":"DejaVu Serif","fontWeight":"bold","fontSize":44,"color":"#22324e"},
 "encoding":{"y":{"field":"r","type":"quantitative","scale":{"domain":[-26.2,100],"nice":false,"zero":false},"axis":null},"text":{"field":"t"}}},
{"data":{"values":[{"d":470.4,"r":11.8,"t":"oney"}]},
 "mark":{"type":"text","align":"left","baseline":"alphabetic","font":"DejaVu Serif","fontWeight":"bold","fontSize":44,"color":"#ffffff"},
 "encoding":{"y":{"field":"r","type":"quantitative","scale":{"domain":[-26.2,100],"nice":false,"zero":false},"axis":null},"text":{"field":"t"}}},
{"data":{"values":[{"d":534,"r":11.8,"t":".it"}]},
 "mark":{"type":"text","align":"left","baseline":"alphabetic","font":"DejaVu Serif","fontWeight":"bold","fontSize":24,"color":"#3cb52a"},
 "encoding":{"y":{"field":"r","type":"quantitative","scale":{"domain":[-26.2,100],"nice":false,"zero":false},"axis":null},"text":{"field":"t"}}},
{"data":{"values":[{"d":0,"d1":12.6,"r0":79.7,"r1":93.2}]},
 "mark":{"type":"rect","color":"#3c3c3c"},
 "encoding":{"x2":{"field":"d1"},"y":{"field":"r0","type":"quantitative","scale":{"domain":[-26.2,100],"nice":false,"zero":false},"axis":null},"y2":{"field":"r1"}}},
{"data":{"values":[{"d":0.3,"r":86.4,"t":",70,30)"}]},
 "mark":{"type":"text","align":"left","baseline":"middle","font":"DejaVu Sans","fontSize":8,"fontWeight":"bold","color":"#dddddd"},
 "encoding":{"y":{"field":"r","type":"quantitative","scale":{"domain":[-26.2,100],"nice":false,"zero":false},"axis":null},"text":{"field":"t"}}}
]
}
]
}
